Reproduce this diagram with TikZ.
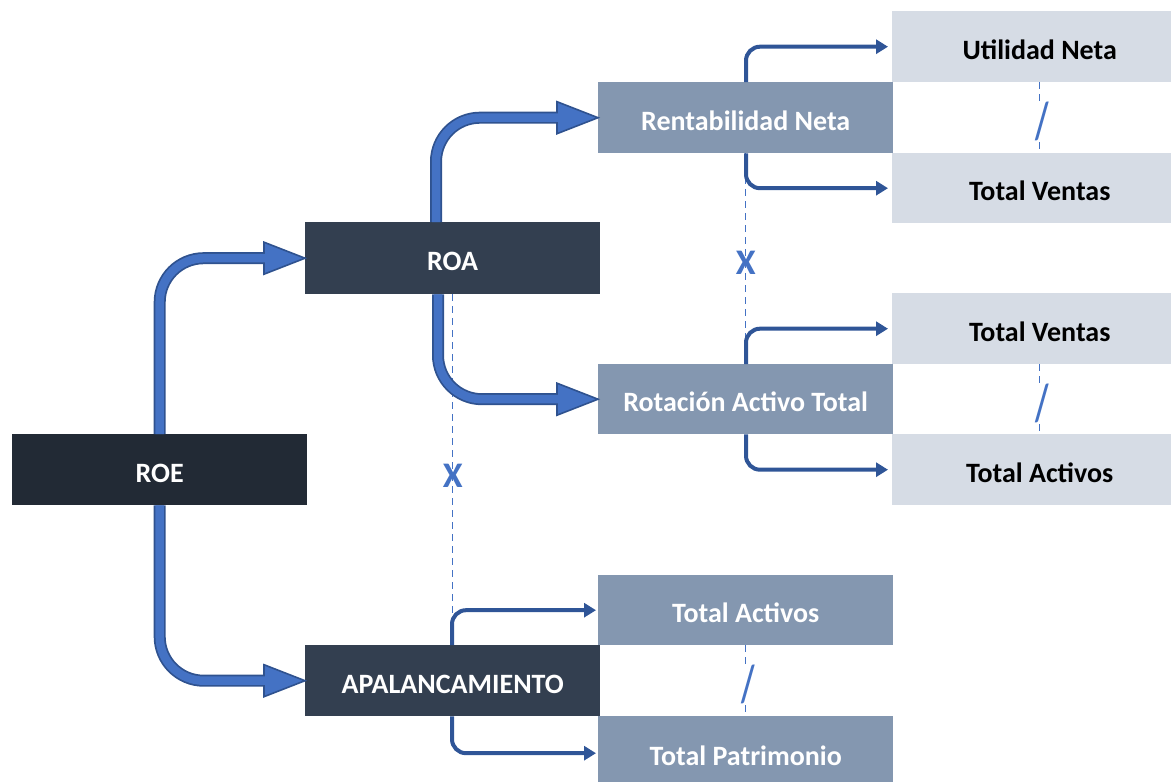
\documentclass[tikz,border=0pt]{standalone}
\usepackage{fontspec}
\setmainfont{Carlito}
\usetikzlibrary{calc,arrows.meta}
\definecolor{roecol}{HTML}{222A35}
\definecolor{darkbox}{HTML}{333F50}
\definecolor{midbox}{HTML}{8497B0}
\definecolor{lightbox}{HTML}{D6DCE5}
\definecolor{arrlight}{HTML}{4472C4}
\definecolor{arrdark}{HTML}{2F528F}
\definecolor{thincol}{HTML}{2F5597}
\definecolor{dashcol}{HTML}{4472C4}
\newcommand{\BigConn}[2]{%
  \draw[bigouter] (#1) |- ($(#2)+(-38,0)$);
  \filldraw[bighead] (#2) -- ++(-41,-16) -- ++(0,32) -- cycle;
  \draw[biginner] (#1) |- ($(#2)+(-37,0)$);
}
\begin{document}
\begin{tikzpicture}[x=1pt,y=-1pt,
  boxbase/.style={anchor=north west, minimum width=295pt, minimum height=71pt, inner sep=0pt,
    text height=25pt, text depth=0pt,
    font=\bfseries\fontsize{28}{32}\selectfont},
  darkb/.style={boxbase, fill=darkbox, text=white},
  midb/.style={boxbase, fill=midbox, text=white},
  rightb/.style={boxbase, fill=lightbox, text=black},
  bigouter/.style={draw=arrdark, line width=12pt, rounded corners=44pt},
  biginner/.style={draw=arrlight, line width=8.5pt, rounded corners=44pt},
  bighead/.style={fill=arrlight, draw=arrdark, line width=1.6pt, line join=miter},
  thinarr/.style={draw=thincol, line width=4pt, rounded corners=14pt,
    -{Triangle[length=12pt,width=14pt]}, shorten >=4pt},
  dashln/.style={draw=dashcol, line width=1.3pt, dash pattern=on 7pt off 5pt},
  xmark/.style={text=dashcol, font=\bfseries\fontsize{36}{40}\selectfont, inner sep=1pt},
  slashmark/.style={text=dashcol, fill=white, font=\bfseries\fontsize{52}{56}\selectfont, inner sep=0pt}
]
\useasboundingbox (0,0) rectangle (1171,782);

% boxes
\node[boxbase, fill=roecol, text=white] (roe) at (12,434) {ROE};
\node[darkb, minimum height=72pt] (roa) at (305,222) {ROA};
\node[darkb] (apal) at (305,645) {APALANCAMIENTO};
\node[midb] (rn) at (598,82) {Rentabilidad Neta};
\node[midb, minimum height=70pt] (rat) at (598,364) {Rotación Activo Total};
\node[midb, minimum height=70pt] (ta1) at (598,575) {Total Activos};
\node[midb, minimum height=74pt] (tp) at (598,716) {Total Patrimonio};
\node[rightb] (un) at (892,11) {Utilidad Neta};
\node[rightb, minimum height=70pt] (tv1) at (892,153) {Total Ventas};
\node[rightb] (tv2) at (892,293) {Total Ventas};
\node[rightb] (ta2) at (892,434) {Total Activos};

% dashed links
\draw[dashln] (roa.south) -- (apal.north);
\draw[dashln] (rn.south) -- (rat.north);
\draw[dashln] (un.south) -- (tv1.north);
\draw[dashln] (tv2.south) -- (ta2.north);
\draw[dashln] (ta1.south) -- (tp.north);

% thin arrows
\draw[thinarr] ($(rn.north west)+(148,0)$) |- (un.west);
\draw[thinarr] ($(rn.south west)+(148,0)$) |- (tv1.west);
\draw[thinarr] ($(rat.north west)+(148,0)$) |- (tv2.west);
\draw[thinarr] ($(rat.south west)+(148,0)$) |- (ta2.west);
\draw[thinarr, shorten >=2pt] ($(apal.north west)+(147,0)$) |- (ta1.west);
\draw[thinarr, shorten >=2pt] ($(apal.south west)+(147,0)$) |- (tp.west);

% thick arrows
\BigConn{roe.north}{roa.west}
\BigConn{roe.south}{apal.west}
\BigConn{$(roa.north west)+(131,0)$}{rn.west}
\BigConn{$(roa.south west)+(133,0)$}{rat.west}

% operators
\node[xmark] (x1) at ($(roa.south)!0.5!(apal.north)+(0,6)$) {X};
\node[xmark] (x2) at ($(rn.south)!0.5!(rat.north)+(0,4)$) {X};
\node[slashmark] (s1) at ($(un.south)!0.5!(tv1.north)+(2,4)$) {\scalebox{0.6}[1]{/}};
\node[slashmark] (s2) at ($(tv2.south)!0.5!(ta2.north)+(2,4)$) {\scalebox{0.6}[1]{/}};
\node[slashmark] (s3) at ($(ta1.south)!0.5!(tp.north)+(2,4)$) {\scalebox{0.6}[1]{/}};
\end{tikzpicture}
\end{document}
